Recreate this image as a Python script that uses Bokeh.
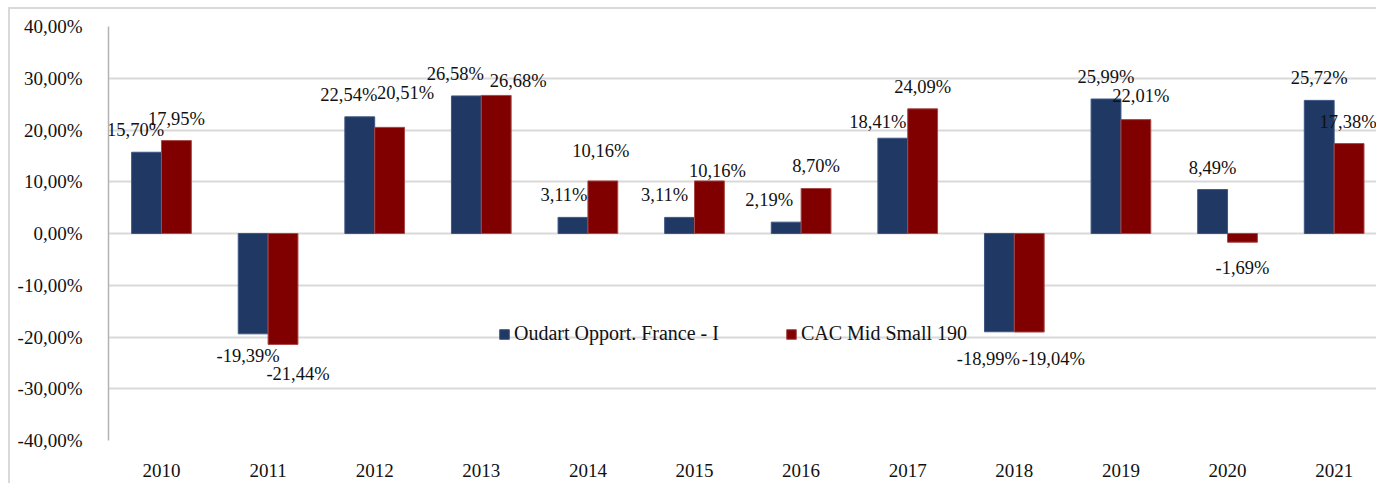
from bokeh.plotting import figure
from bokeh.models import ColumnDataSource, FixedTicker, Legend, LegendItem
from bokeh.core.properties import value
from bokeh.embed import file_html
from bokeh.resources import INLINE

# ---- data ----
years = ["2010", "2011", "2012", "2013", "2014", "2015", "2016", "2017", "2018", "2019", "2020", "2021"]
oudart = [15.70, -19.39, 22.54, 26.58, 3.11, 3.11, 2.19, 18.41, -18.99, 25.99, 8.49, 25.72]
cac = [17.95, -21.44, 20.51, 26.68, 10.16, 10.16, 8.70, 24.09, -19.04, 22.01, -1.69, 17.38]
y_ticks = [-40, -30, -20, -10, 0, 10, 20, 30, 40]
y_tick_labels = ["-40,00%", "-30,00%", "-20,00%", "-10,00%", "0,00%", "10,00%", "20,00%", "30,00%", "40,00%"]
series_names = ["Oudart Opport. France - I", "CAC Mid Small 190"]

# ---- label nudges (pixels), layout only ----
oudart_dx = [-11, -5, -11, -11, -9, -15, -17, -15, -11, 0, 0, 0]
oudart_dy = [0, 0, 0, 0, 0, 0, 0, 6, 5, 0, 0, 0]
cac_dx = [0, 15, 16, 22, -2, 8, 0, 0, 24, 5, 0, -1]
cac_dy = [0, 8, -12, 8, -8, 12, 0, 0, 5, -2, 4, 0]

NAVY = "#203864"
RED = "#800000"
FONT = "Liberation Serif"
W = 0.28

xs = list(range(len(years)))

p = figure(width=1368, height=476, output_backend="svg", toolbar_location=None,
           x_range=(-0.497, 11.416), y_range=(-40, 40),
           min_border_left=98, min_border_right=0, min_border_top=17, min_border_bottom=45)
# chart-area border (left and top), as in the reference
p.styles = {"margin-left": "8px", "margin-top": "7px",
            "border-left": "2px solid #d9d9d9", "border-top": "2px solid #d9d9d9"}
p.outline_line_color = None
p.background_fill_color = "white"
p.border_fill_color = "white"

src = ColumnDataSource(dict(
    xo=[x - W / 2 for x in xs], xc=[x + W / 2 for x in xs],
    oudart=oudart, cac=cac))

r1 = p.vbar(x="xo", top="oudart", bottom=0, width=W, source=src,
            fill_color=NAVY, line_color="#3d5683", line_width=1)
r2 = p.vbar(x="xc", top="cac", bottom=0, width=W, source=src,
            fill_color=RED, line_color="#a84848", line_width=1)

def fmt(v):
    return f"{v:.2f}".replace(".", ",") + "%"

lx, ly, lt, ldx, ldy = [], [], [], [], []
for i in xs:
    for vals, off, dxs, dys in ((oudart, -W / 2, oudart_dx, oudart_dy), (cac, W / 2, cac_dx, cac_dy)):
        v = vals[i]
        lx.append(i + off)
        ly.append(v)
        lt.append(fmt(v))
        ldx.append(dxs[i])
        ldy.append((-22 if v >= 0 else 22) + dys[i])

lsrc = ColumnDataSource(dict(x=lx, y=ly, text=lt, dx=ldx, dy=ldy))
p.text(x="x", y="y", text="text", x_offset="dx", y_offset="dy", source=lsrc,
       text_font=value(FONT), text_font_size="18.5px", text_color="#111111",
       text_align="center", text_baseline="middle")

# axes
p.yaxis.ticker = FixedTicker(ticks=y_ticks)
p.yaxis.major_label_overrides = {t: l for t, l in zip(y_ticks, y_tick_labels)}
p.xaxis.ticker = FixedTicker(ticks=xs)
p.xaxis.major_label_overrides = {i: y for i, y in enumerate(years)}
for ax in (p.xaxis[0], p.yaxis[0]):
    ax.major_tick_line_color = None
    ax.minor_tick_line_color = None
    ax.major_label_text_font = FONT
    ax.major_label_text_color = "#111111"
p.yaxis.major_label_text_font_size = "19px"
p.xaxis.major_label_text_font_size = "19px"
p.yaxis.major_label_standoff = 20
p.xaxis.major_label_standoff = 17
p.yaxis.axis_line_color = "#b3b3b3"
p.yaxis.axis_line_width = 1.5
p.xaxis.axis_line_color = None

p.xgrid.grid_line_color = None
p.ygrid.grid_line_color = "#d9d9d9"
p.ygrid.grid_line_width = 2

legend = Legend(items=[LegendItem(label=series_names[0], renderers=[r1]),
                       LegendItem(label=series_names[1], renderers=[r2])],
                location=(390, 95), orientation="horizontal",
                glyph_width=12, glyph_height=12, label_standoff=4, spacing=66,
                padding=0, margin=0, border_line_color=None,
                background_fill_alpha=0, label_text_font=FONT,
                label_text_font_size="20px", label_text_color="#111111",
                label_height=20)
p.add_layout(legend, "center")

open("out.html", "w").write(file_html(p, INLINE))
